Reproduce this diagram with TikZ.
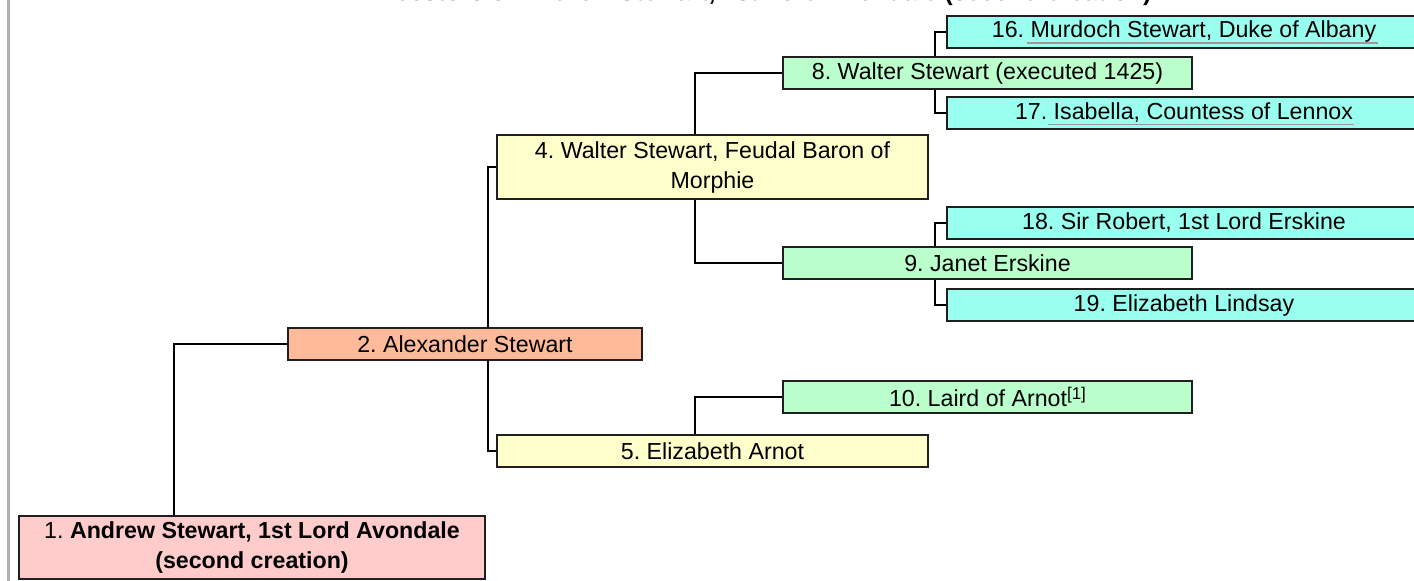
\documentclass[tikz,border=0pt]{standalone}
\usepackage{fontspec}
\setmainfont{Liberation Sans}
\usetikzlibrary{backgrounds}
\frenchspacing
\definecolor{gOne}{HTML}{FFCCCC}
\definecolor{gTwo}{HTML}{FFBB99}
\definecolor{gThree}{HTML}{FFFFCC}
\definecolor{gFour}{HTML}{BBFFCC}
\definecolor{gFive}{HTML}{99FFEE}
\definecolor{rule}{HTML}{B0B0B0}
\definecolor{linkul}{HTML}{9A9A9A}
\begin{document}
\begin{tikzpicture}[x=1pt,y=-1pt,
  box/.style={draw=black!88, line width=2pt, inner sep=0pt, align=center,
    font=\fontsize{23.2}{30}\selectfont\frenchspacing, anchor=north west},
  link/.style={line width=2pt, draw=black},
  lk/.style={line width=1.4pt, draw=linkul}]
\useasboundingbox (0,0) rectangle (1414,581);
\draw[line width=2.5pt, draw=rule] (8.7,-2) -- (8.7,583);
\node[font=\fontsize{24.8}{30}\selectfont\bfseries, anchor=base] (title) at (757,0.5)
  {Ancestors of Andrew Stewart, 1st Lord Avondale (second creation)};
\coordinate (bx1) at (174,0);
\coordinate (bx2) at (488,0);
\coordinate (bx3) at (695,0);
\coordinate (bx4) at (935,0);
% generation 1
\node[box, fill=gOne, minimum width=466pt, minimum height=63pt] (n1) at (18,515)
  {1. \textbf{Andrew Stewart, 1st Lord Avondale}\\\textbf{(second creation)}};
% generation 2
\node[box, fill=gTwo, minimum width=354pt, minimum height=32pt] (n2) at (287,327)
  {2. Alexander Stewart};
% generation 3
\node[box, fill=gThree, minimum width=431pt, minimum height=64pt] (n4) at (496,134)
  {4. Walter Stewart, Feudal Baron of\\Morphie};
\node[box, fill=gThree, minimum width=431pt, minimum height=32pt] (n5) at (496,434)
  {5. Elizabeth Arnot};
% generation 4
\node[box, fill=gFour, minimum width=409pt, minimum height=32pt] (n8) at (782,56)
  {8. Walter Stewart (executed 1425)};
\node[box, fill=gFour, minimum width=409pt, minimum height=32pt] (n9) at (782,246)
  {9. Janet Erskine};
\node[box, fill=gFour, minimum width=409pt, minimum height=32pt] (n10) at (782,380)
  {10. Laird of Arnot{\fontsize{17}{17}\selectfont\raisebox{7pt}{[1]}}};
% generation 5
\node[box, fill=gFive, minimum width=474pt, minimum height=32pt] (n16) at (946,15)
  {16. Murdoch Stewart, Duke of Albany};
\node[box, fill=gFive, minimum width=474pt, minimum height=32pt] (n17) at (946,96)
  {17. Isabella, Countess of Lennox};
\node[box, fill=gFive, minimum width=474pt, minimum height=32pt] (n18) at (946,206)
  {18. Sir Robert, 1st Lord Erskine};
\node[box, fill=gFive, minimum width=474pt, minimum height=32pt] (n19) at (946,288)
  {19. Elizabeth Lindsay};
% link underlines
\draw[lk] (1027,43) -- (1378,43);
\draw[lk] (1048,124.5) -- (1354,124.5);
% connectors
\begin{scope}[on background layer]
\draw[link] (n2.west) -| (bx1 |- n1.north);
\draw[link] (n4.west) -| (bx2 |- n5.west) -- (n5.west);
\draw[link] (n8.west) -| (bx3 |- n9.west) -- (n9.west);
\draw[link] (n10.west) -| (bx3 |- n5.north);
\draw[link] (n16.west) -| (bx4 |- n17.west) -- (n17.west);
\draw[link] (n18.west) -| (bx4 |- n19.west) -- (n19.west);
\end{scope}
\end{tikzpicture}
\end{document}
